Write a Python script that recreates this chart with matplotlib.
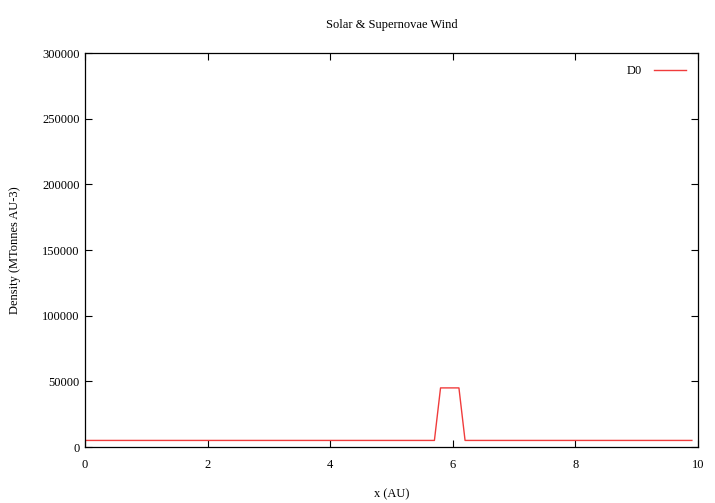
import matplotlib
matplotlib.use('Agg')
import matplotlib.pyplot as plt

plt.rcParams['font.family'] = ['Liberation Serif', 'DejaVu Serif']
plt.rcParams['font.size'] = 9

# density profile D0 (x in AU)
x_au = [0.0, 5.7, 5.8, 6.1, 6.2, 9.9]
density = [5000, 5000, 45000, 45000, 5000, 5000]

y_ticks = [0, 50000, 100000, 150000, 200000, 250000, 300000]
x_ticks = [0, 2, 4, 6, 8, 10]

fig = plt.figure(figsize=(7.15, 5.03), dpi=100)
ax = fig.add_axes([85/715, 56/503, 613/715, 394/503])

ax.plot(x_au, density, color='#f03c3c', lw=1, label='D0')

ax.set_xlim(0, 10)
ax.set_ylim(0, 300000)
ax.set_xticks(x_ticks)
ax.set_yticks(y_ticks)
ax.tick_params(direction='in', length=5, width=0.8, top=True, right=True)
ax.tick_params(axis='x', pad=9)
ax.tick_params(axis='y', pad=4)
for s in ax.spines.values():
    s.set_linewidth(0.9)

ax.set_title('Solar & Supernovae Wind', fontsize=9, pad=18)
ax.set_xlabel('x (AU)', labelpad=12)
ax.set_ylabel('Density (MTonnes AU-3)', labelpad=15)

ax.legend(loc='upper right', frameon=False, markerfirst=False,
          handlelength=2.5, handletextpad=1.0, borderaxespad=0.6)

fig.savefig('out.png', dpi=100)
